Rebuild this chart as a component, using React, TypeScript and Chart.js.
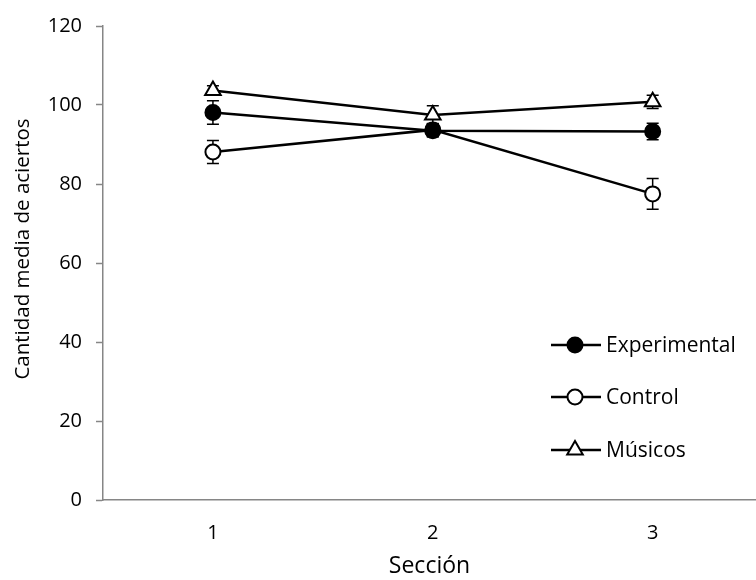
import React, { useEffect, useRef } from "react";
import { Chart, registerables } from "chart.js";
import { drawPoint } from "chart.js/helpers";

Chart.register(...registerables);

const sections = [1, 2, 3];
const seriesNames = ["Experimental", "Control", "Músicos"];
const experimental = [98.1, 93.5, 93.3];
const control = [88.1, 93.7, 77.5];
const musicos = [103.7, 97.5, 100.8];
const experimentalErr = [3.0, 1.6, 2.1];
const controlErr = [2.9, 1.6, 3.9];
const musicosErr = [1.2, 2.3, 1.7];
const yTicks = [0, 20, 40, 60, 80, 100, 120];
const xTitle = "Sección";
const yTitle = "Cantidad media de aciertos";

const FONT = "'Open Sans', 'Noto Sans', sans-serif";
const AXIS = "#868686";

const errorBarPlugin = {
  id: "errorBars",
  beforeDatasetsDraw(chart: any) {
    const ctx = chart.ctx;
    const xs = chart.scales.x;
    const ys = chart.scales.y;
    ctx.save();
    ctx.strokeStyle = "#000";
    ctx.lineWidth = 1.5;
    chart.data.datasets.forEach((ds: any) => {
      const errs: number[] = ds.errors;
      ds.data.forEach((p: any, i: number) => {
        const x = xs.getPixelForValue(p.x);
        const yTop = ys.getPixelForValue(p.y + errs[i]);
        const yBot = ys.getPixelForValue(p.y - errs[i]);
        ctx.beginPath();
        ctx.moveTo(x, yTop);
        ctx.lineTo(x, yBot);
        ctx.moveTo(x - 6, yTop);
        ctx.lineTo(x + 6, yTop);
        ctx.moveTo(x - 6, yBot);
        ctx.lineTo(x + 6, yBot);
        ctx.stroke();
      });
    });
    ctx.restore();
  },
};

const legendPlugin = {
  id: "customLegend",
  afterDraw(chart: any) {
    const ctx = chart.ctx;
    const rows = [345, 397, 450];
    ctx.save();
    chart.data.datasets.forEach((ds: any, i: number) => {
      const y = rows[i];
      ctx.strokeStyle = "#000";
      ctx.lineWidth = 2.5;
      ctx.beginPath();
      ctx.moveTo(551, y);
      ctx.lineTo(601, y);
      ctx.stroke();
      ctx.fillStyle = ds.pointBackgroundColor;
      ctx.strokeStyle = "#000";
      ctx.lineWidth = 2;
      drawPoint(
        ctx,
        { pointStyle: ds.pointStyle, radius: ds.pointRadius, rotation: 0, borderWidth: 2 } as any,
        575,
        y
      );
      ctx.fillStyle = "#000";
      ctx.font = `21px ${FONT}`;
      ctx.textAlign = "left";
      ctx.textBaseline = "middle";
      ctx.fillText(ds.label, 606, y + 1);
    });
    // y-axis title
    const ca = chart.chartArea;
    ctx.translate(23, (ca.top + ca.bottom) / 2 - 14);
    ctx.rotate(-Math.PI / 2);
    ctx.font = `20.5px ${FONT}`;
    ctx.textAlign = "center";
    ctx.textBaseline = "middle";
    ctx.fillText(yTitle, 0, 0);
    ctx.restore();
  },
};

export default function App() {
  const ref = useRef<HTMLCanvasElement>(null);
  useEffect(() => {
    document.body.style.margin = "0";
    const mk = (vals: number[]) => vals.map((v, i) => ({ x: sections[i], y: v }));
    const chart = new Chart(ref.current!, {
      type: "line",
      data: {
        datasets: [
          {
            label: seriesNames[0],
            data: mk(experimental),
            errors: experimentalErr,
            borderColor: "#000",
            borderWidth: 2.5,
            pointStyle: "circle",
            pointRadius: 7.5,
            pointBackgroundColor: "#000",
            pointBorderColor: "#000",
            pointBorderWidth: 2,
          } as any,
          {
            label: seriesNames[1],
            data: mk(control),
            errors: controlErr,
            borderColor: "#000",
            borderWidth: 2.5,
            pointStyle: "circle",
            pointRadius: 7.5,
            pointBackgroundColor: "#fff",
            pointBorderColor: "#000",
            pointBorderWidth: 2,
          } as any,
          {
            label: seriesNames[2],
            data: mk(musicos),
            errors: musicosErr,
            borderColor: "#000",
            borderWidth: 2.5,
            pointStyle: "triangle",
            pointRadius: 9,
            pointBackgroundColor: "#fff",
            pointBorderColor: "#000",
            pointBorderWidth: 2,
          } as any,
        ],
      },
      options: {
        animation: false,
        responsive: false,
        layout: { autoPadding: false, padding: { top: 24, right: 0, left: 0, bottom: 0 } },
        plugins: { legend: { display: false }, tooltip: { enabled: false } },
        scales: {
          x: {
            type: "linear",
            min: 0.5,
            max: 3.47,
            afterBuildTicks: (s: any) => {
              s.ticks = sections.map((v) => ({ value: v }));
            },
            afterFit: (s: any) => {
              s.height = 80;
              s.paddingLeft = 0;
              s.paddingRight = 0;
            },
            grid: { display: true, drawOnChartArea: false, drawTicks: false },
            border: { display: true, color: AXIS, width: 1.5 },
            ticks: {
              color: "#000",
              font: { family: FONT, size: 20 },
              padding: 21,
              callback: (v: any) => String(v),
            },
            title: {
              display: true,
              text: xTitle,
              color: "#000",
              font: { family: FONT, size: 23 },
              padding: { top: -4, bottom: 0 },
            },
          },
          y: {
            min: 0,
            max: 120,
            afterBuildTicks: (s: any) => {
              s.ticks = yTicks.map((v) => ({ value: v }));
            },
            afterFit: (s: any) => {
              s.width = 103;
            },
            grid: { display: true, drawOnChartArea: false, drawTicks: true, tickLength: 7, color: AXIS, tickWidth: 1.5 },
            border: { display: true, color: AXIS, width: 1.5 },
            ticks: {
              color: "#000",
              font: { family: FONT, size: 20 },
              padding: 14,
            },
            title: { display: false },
          },
        },
      },
      plugins: [errorBarPlugin, legendPlugin],
    });
    return () => chart.destroy();
  }, []);
  return (
    <div style={{ width: 756, height: 580 }}>
      <canvas ref={ref} width={756} height={580} style={{ display: "block" }} />
    </div>
  );
}
